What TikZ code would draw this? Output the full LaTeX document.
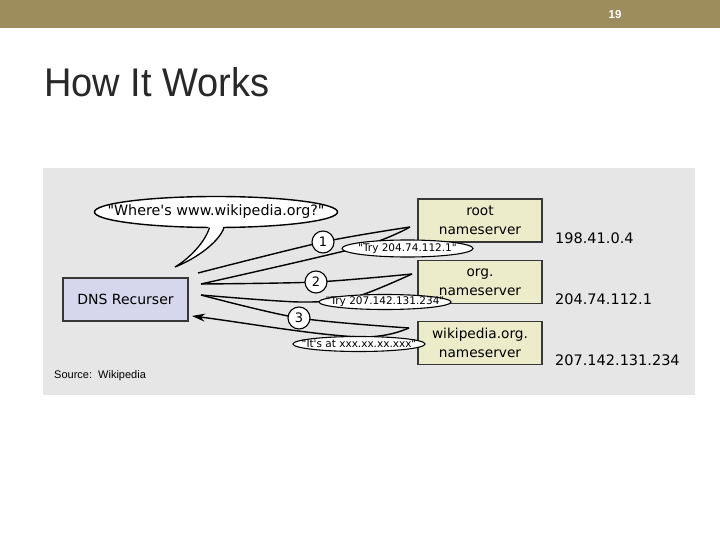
\documentclass[tikz,border=0pt]{standalone}
\usepackage{fontspec}
\setmainfont{Liberation Sans}
\newfontfamily\dejavu{DejaVu Sans}
\usetikzlibrary{shapes.geometric,arrows.meta}
\definecolor{barcol}{RGB}{157,141,92}
\definecolor{panel}{RGB}{230,230,230}
\definecolor{recfill}{RGB}{214,214,236}
\definecolor{srvfill}{RGB}{236,236,202}
\definecolor{edgecol}{RGB}{55,55,55}
\definecolor{titlecol}{RGB}{40,40,40}
\begin{document}
\begin{tikzpicture}[x=1pt,y=-1pt,
  boxbase/.style={draw=edgecol, line width=1.4pt, inner sep=0pt, align=center,
    font=\dejavu\fontsize{13.7}{19}\selectfont},
  recbox/.style={boxbase, fill=recfill, minimum width=125pt, minimum height=43pt,
    font=\dejavu\fontsize{14}{19}\selectfont},
  srvbox/.style={boxbase, fill=srvfill, minimum width=124pt, minimum height=43pt},
  iplabel/.style={anchor=west, inner sep=0pt, font=\dejavu\fontsize{14.5}{16}\selectfont},
  bub/.style={ellipse, draw=black, fill=white, line width=1.1pt, inner sep=0pt,
    font=\dejavu\fontsize{10.5}{11}\selectfont},
  num/.style={circle, draw=black, fill=white, line width=1.1pt, inner sep=0pt,
    minimum size=22pt, font=\dejavu\fontsize{13}{13}\selectfont},
  link/.style={draw=black, line width=1.4pt, line join=round}]
\useasboundingbox (0,0) rectangle (720,540);
\fill[white] (0,0) rectangle (720,540);
\fill[barcol] (0,0) rectangle (720,28);
\node[text=white, inner sep=0pt, font=\bfseries\fontsize{11.5}{12}\selectfont] (pg) at (615,14.5) {19};
\node[anchor=west, inner sep=0pt, text=titlecol, xscale=0.95,
  font=\fontsize{40}{40}\selectfont] (title) at (44,82) {How It Works};

% panel
\fill[panel] (43,168) rectangle (695,395);

% boxes
\node[recbox] (rec) at (125.5,299.5) {DNS Recurser};
\node[srvbox] (root) at (480,220.5) {root\\nameserver};
\node[srvbox] (org) at (480,282) {org.\\nameserver};
\node[srvbox] (wiki) at (480,343) {wikipedia.org.\\nameserver};

\node[iplabel] (ip1) at (555,238) {198.41.0.4};
\node[iplabel] (ip2) at (555,299) {204.74.112.1};
\node[iplabel] (ip3) at (555,360) {207.142.131.234};

% path points
\coordinate (P1) at (198,273);
\coordinate (P2) at (201,284);
\coordinate (P3) at (201,295);
\coordinate (T1) at (410,227);
\coordinate (T2) at (412,274);
\coordinate (T3) at (409,328);
\coordinate (A) at (192,316);
\coordinate (k1) at (323,242);
\coordinate (k2) at (316,282);
\coordinate (k3) at (299,318);

% requests
\draw[link] plot[smooth] coordinates {(P1) (k1) (T1)};
\draw[link] plot[smooth] coordinates {(P2) (k2) (T2)};
\draw[link] plot[smooth] coordinates {(P3) (k3) (T3)};
% replies
\draw[link] plot[smooth] coordinates {(T1) (360,247) (P2)};
\draw[link] plot[smooth] coordinates {(T2) (355,297) (300,302) (P3)};
\draw[link, -{Stealth[length=13pt,width=8pt]}] (T3) .. controls (395,334) and (380,337) .. (362,337)
   .. controls (320,336) and (240,322) .. (A);

% numbered circles
\node[num] (c1) at (k1) {1};
\node[num] (c2) at (k2) {2};
\node[num] (c3) at (k3) {3};

% reply bubbles
\node[bub, minimum width=131pt, minimum height=17pt] (e1) at (407.5,248.5)
  {\makebox[0pt][c]{"Try 204.74.112.1"}};
\node[bub, minimum width=132pt, minimum height=15pt] (e2) at (385,302)
  {\makebox[0pt][c]{"Try 207.142.131.234"}};
\node[bub, minimum width=132pt, minimum height=15pt] (e3) at (359,344)
  {\makebox[0pt][c]{"It\textquotesingle s at xxx.xx.xx.xxx"}};

% question bubble
\node[ellipse, draw=black, fill=white, line width=1.4pt, inner sep=0pt,
  minimum width=243pt, minimum height=31pt, font=\dejavu\fontsize{14.3}{15}\selectfont]
  (where) at (216,212) {\makebox[0pt][c]{"Where\textquotesingle s www.wikipedia.org?"}};
\coordinate (tip) at (175,267);
\fill[white] (209.5,224) .. controls (205,242) and (190,258) .. (tip)
   .. controls (200,257) and (220,240) .. (224,224) -- cycle;
\draw[line width=1.3pt] (209.5,227.6) .. controls (205,242) and (190,258) .. (tip)
   .. controls (200,257) and (220,240) .. (224,227.6);

\node[anchor=west, inner sep=0pt, font=\fontsize{11}{12}\selectfont] (src) at (54,376)
  {Source:~~Wikipedia};
\end{tikzpicture}
\end{document}
